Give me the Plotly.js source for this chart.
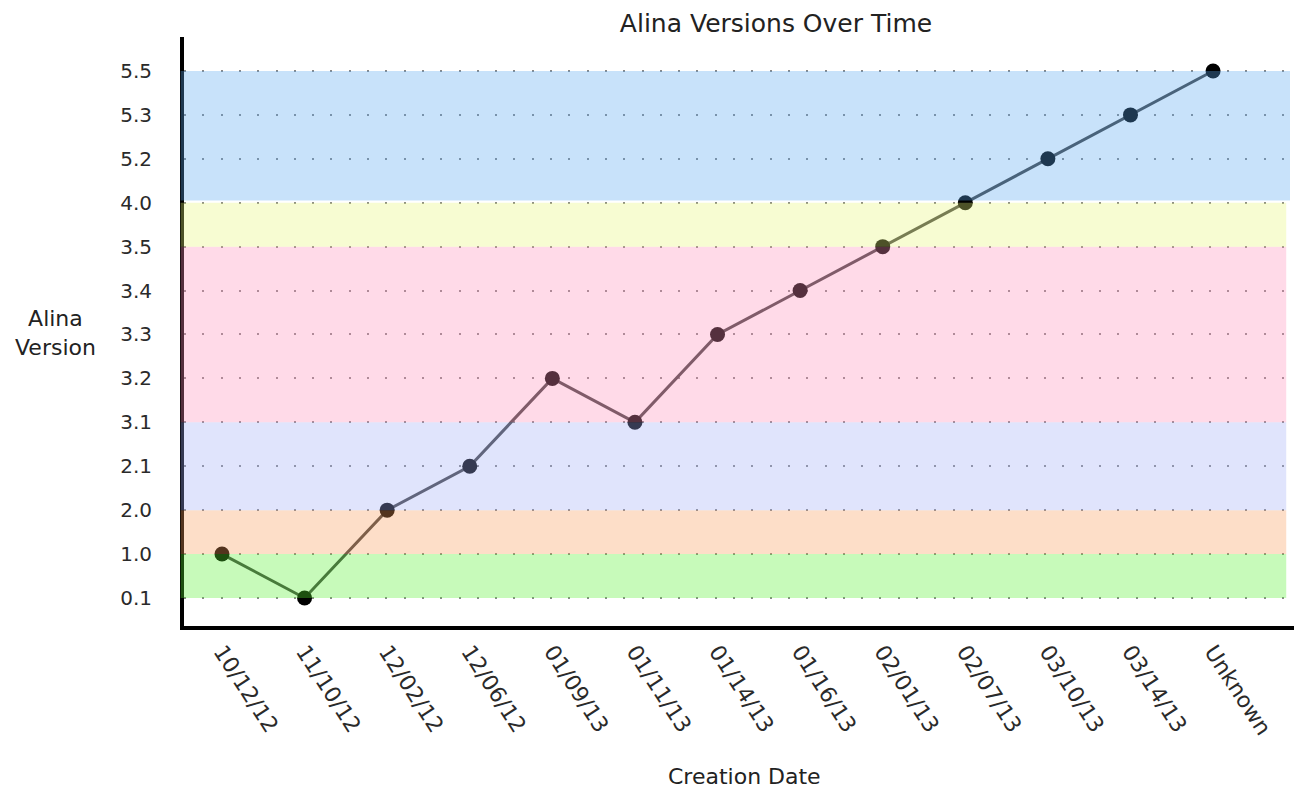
<!DOCTYPE html>
<html>
<head>
<meta charset="utf-8">
<script src="https://cdn.plot.ly/plotly-3.0.1.min.js"></script>
<style>html,body{margin:0;padding:0;background:#fff;}#chart{width:1294px;height:790px;}</style>
</head>
<body>
<div id="chart"></div>
<script>
// Data
const creationDates = ["10/12/12","11/10/12","12/02/12","12/06/12","01/09/13","01/11/13","01/14/13","01/16/13","02/01/13","02/07/13","03/10/13","03/14/13","Unknown"];
const versionsAtDate = ["1.0","0.1","2.0","2.1","3.2","3.1","3.3","3.4","3.5","4.0","5.2","5.3","5.5"];
const versionCategories = ["0.1","1.0","2.0","2.1","3.1","3.2","3.3","3.4","3.5","4.0","5.2","5.3","5.5"];
// Version bands: from, to, colour
const bandFrom = ["0.1","1.0","2.0","3.1","3.5","4.0"];
const bandTo   = ["1.0","2.0","3.1","3.5","4.0","5.5"];
const bandColors = ["rgba(87,240,48,0.333)","rgba(249,156,90,0.333)","rgba(162,174,246,0.333)","rgba(255,144,186,0.333)","rgba(231,246,120,0.333)","rgba(90,168,240,0.333)"];

const FONT = "DejaVu Sans, Verdana, sans-serif";

const shapes = bandFrom.map((f, i) => ({
  type: 'rect', xref: 'paper', yref: 'y', layer: 'above',
  x0: -0.003, x1: (i === bandFrom.length - 1) ? 0.9964 : 0.993,
  y0: versionCategories.indexOf(f) + (i === bandFrom.length - 1 ? 0.05 : 0),
  y1: versionCategories.indexOf(bandTo[i]),
  fillcolor: bandColors[i], line: {width: 0}
}));

const trace = {
  type: 'scatter', mode: 'lines+markers',
  x: creationDates, y: versionsAtDate,
  line: {color: 'rgb(65,65,65)', width: 3},
  marker: {color: '#000', size: 15},
  hoverinfo: 'x+y'
};

const layout = {
  width: 1294, height: 790,
  margin: {l: 184, r: 0, t: 37, b: 164},
  paper_bgcolor: '#fff', plot_bgcolor: '#fff',
  showlegend: false,
  font: {family: FONT, color: '#2a2a2a'},
  title: {text: 'Alina Versions Over Time', font: {family: FONT, size: 25, color: '#222'},
          x: 776/1294, xanchor: 'center', xref: 'container', y: 1 - 23/790, yanchor: 'middle', yref: 'container'},
  xaxis: {
    type: 'category', categoryorder: 'array', categoryarray: creationDates,
    range: [-0.46, 12.98], showgrid: false, zeroline: false,
    showline: true, linecolor: '#000', linewidth: 4,
    ticks: '', 
    tickangle: 57, tickfont: {family: FONT, size: 22, color: '#2a2a2a'}
  },
  yaxis: {
    type: 'category', categoryorder: 'array', categoryarray: versionCategories,
    range: [-0.638, 12.774], showgrid: true, gridcolor: '#888', gridwidth: 2, griddash: '2px,16.3px',
    zeroline: false, showline: true, linecolor: '#000', linewidth: 4,
    ticks: 'outside', ticklen: 24, tickcolor: 'rgba(0,0,0,0)',
    tickfont: {family: FONT, size: 20, color: '#2a2a2a'}
  },
  shapes: shapes,
  annotations: [
    {text: 'Creation Date', xref: 'paper', yref: 'paper', x: (744.5-184)/1110, y: -(777-626)/589,
     xanchor: 'center', yanchor: 'middle', showarrow: false, font: {family: FONT, size: 22, color: '#222'}},
    {text: 'Alina<br>Version', xref: 'paper', yref: 'paper', x: (55-184)/1110, y: (626-333)/589,
     xanchor: 'center', yanchor: 'middle', align: 'center', showarrow: false, font: {family: FONT, size: 22, color: '#222'}}
  ]
};

Plotly.newPlot('chart', [trace], layout, {displayModeBar: false, staticPlot: true});
</script>
</body>
</html>
